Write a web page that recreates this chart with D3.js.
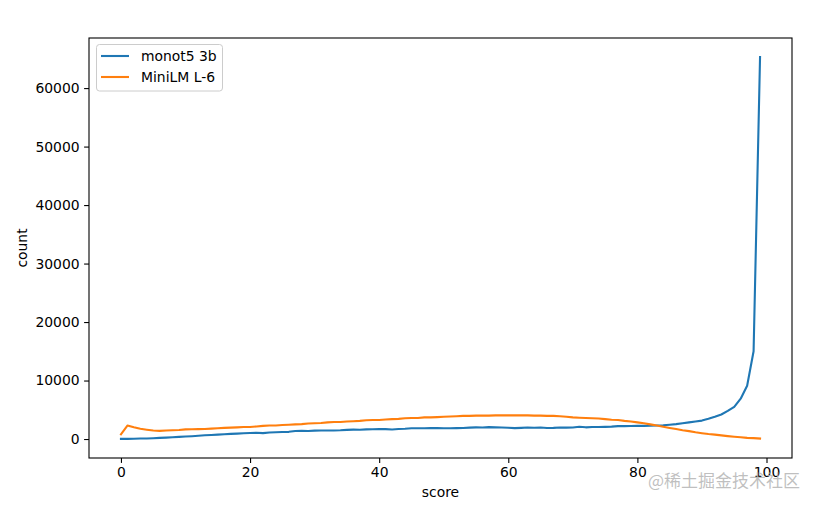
<!DOCTYPE html>
<html>
<head>
<meta charset="utf-8">
<script src="https://cdn.jsdelivr.net/npm/d3@7"></script>
<style>
  html, body { margin: 0; padding: 0; background: #fff; }
  svg { display: block; }
  text { font-family: "DejaVu Sans", sans-serif; }
</style>
</head>
<body>
<svg id="chart" width="819" height="507"></svg>
<script>
// ---- data ----
const seriesNames = ["monot5 3b", "MiniLM L-6"];
const seriesColors = ["#1f77b4", "#ff7f0e"];
const monot5 = [
  20, 30, 50, 80, 100, 140, 190, 240, 300, 360,
  420, 480, 560, 640, 700, 760, 820, 880, 930, 990,
  1030, 1060, 1010, 1120, 1160, 1200, 1230, 1380, 1400, 1360,
  1430, 1450, 1460, 1470, 1500, 1560, 1600, 1580, 1650, 1680,
  1700, 1690, 1640, 1720, 1760, 1840, 1850, 1830, 1890, 1870,
  1850, 1830, 1870, 1890, 1950, 2000, 1960, 2030, 1990, 1970,
  1920, 1860, 1900, 1960, 1920, 1960, 1880, 1900, 1980, 1950,
  1970, 2100, 2000, 2050, 2060, 2080, 2120, 2200, 2210, 2220,
  2240, 2250, 2270, 2300, 2350, 2450, 2550, 2700, 2850, 3000,
  3150, 3450, 3800, 4200, 4800, 5500, 6900, 9100, 15000, 65300
];
const miniLM = [
  800, 2300, 2000, 1750, 1600, 1450, 1400, 1450, 1500, 1550,
  1650, 1680, 1700, 1720, 1780, 1850, 1900, 1950, 2000, 2050,
  2050, 2150, 2250, 2300, 2300, 2400, 2450, 2500, 2550, 2650,
  2700, 2750, 2850, 2900, 2900, 3000, 3050, 3100, 3200, 3250,
  3250, 3350, 3400, 3450, 3550, 3600, 3600, 3700, 3700, 3750,
  3800, 3850, 3900, 3950, 3950, 4000, 4000, 4000, 4050, 4050,
  4050, 4050, 4050, 4050, 4000, 4000, 3950, 3950, 3900, 3800,
  3700, 3650, 3600, 3550, 3500, 3400, 3300, 3250, 3100, 3000,
  2850, 2700, 2500, 2300, 2100, 1900, 1700, 1500, 1350, 1150,
  1000, 850, 750, 620, 500, 400, 300, 200, 150, 80
];
const xTicks = [0, 20, 40, 60, 80, 100];
const yTicks = [0, 10000, 20000, 30000, 40000, 50000, 60000];
const xLabel = "score";
const yLabel = "count";
const watermark = "@稀土掘金技术社区";

// ---- layout ----
const svg = d3.select("#chart");
const L = 89, R = 792, T = 38, B = 458;
const fs = 13.9;

const allSeries = [monot5, miniLM];
const scores = d3.range(monot5.length);
const xmin = 0, xmax = scores.length - 1;
const xpad = (xmax - xmin) * 0.05;
const yAll = allSeries.flat();
const ymin = d3.min(yAll), ymax = d3.max(yAll);
const ypad = (ymax - ymin) * 0.05;

const x = d3.scaleLinear().domain([xmin - xpad, xmax + xpad]).range([L, R]);
const y = d3.scaleLinear().domain([ymin - ypad, ymax + ypad]).range([B, T]);

// lines
const line = d3.line().x((d, i) => x(i)).y(d => y(d));
const g = svg.append("g");
g.append("clipPath").attr("id", "clip").append("rect")
  .attr("x", L).attr("y", T).attr("width", R - L).attr("height", B - T);
allSeries.forEach((s, k) => {
  g.append("path").datum(s)
    .attr("d", line)
    .attr("fill", "none")
    .attr("stroke", seriesColors[k])
    .attr("stroke-width", 2.1)
    .attr("stroke-linejoin", "round")
    .attr("stroke-linecap", "square")
    .attr("clip-path", "url(#clip)");
});

// axes
const xAxis = d3.axisBottom(x).tickValues(xTicks).tickSize(4.9).tickPadding(4.5)
  .tickFormat(d3.format("d"));
const yAxis = d3.axisLeft(y).tickValues(yTicks).tickSize(4.9).tickPadding(4.5)
  .tickFormat(d3.format("d"));

const gx = svg.append("g").attr("transform", `translate(0,${B})`).call(xAxis);
const gy = svg.append("g").attr("transform", `translate(${L},0)`).call(yAxis);
[gx, gy].forEach(a => {
  a.select(".domain").remove();
  a.selectAll(".tick line").attr("stroke", "#000").attr("stroke-width", 1.1);
  a.selectAll(".tick text").attr("fill", "#000")
    .style("font-family", "DejaVu Sans").style("font-size", fs + "px");
});
gx.selectAll(".tick text").attr("dy", "0.71em");

// frame
svg.append("rect")
  .attr("x", L).attr("y", T).attr("width", R - L).attr("height", B - T)
  .attr("fill", "none").attr("stroke", "#000").attr("stroke-width", 1.1);

// axis labels
svg.append("text").attr("x", (L + R) / 2).attr("y", 497)
  .attr("text-anchor", "middle").style("font-size", fs + "px").attr("fill", "#000")
  .text(xLabel);
svg.append("text")
  .attr("transform", `translate(27,${(T + B) / 2}) rotate(-90)`)
  .attr("text-anchor", "middle").style("font-size", fs + "px").attr("fill", "#000")
  .text(yLabel);

// legend
const lg = svg.append("g");
lg.append("rect")
  .attr("x", 96.5).attr("y", 44.5).attr("width", 126).attr("height", 46.5)
  .attr("rx", 3).attr("fill", "#fff").attr("fill-opacity", 0.8)
  .attr("stroke", "#cccccc").attr("stroke-width", 1);
seriesNames.forEach((n, k) => {
  const yy = 56 + k * 21;
  lg.append("line").attr("x1", 101).attr("x2", 129).attr("y1", yy).attr("y2", yy)
    .attr("stroke", seriesColors[k]).attr("stroke-width", 2.1);
  lg.append("text").attr("x", 141).attr("y", yy + 5)
    .style("font-size", fs + "px").attr("fill", "#000").text(n);
});

// watermark
svg.append("text").attr("x", 648).attr("y", 487)
  .style("font-family", "'Noto Sans CJK SC', sans-serif").style("font-size", "17px")
  .attr("fill", "#b4b4b4").attr("fill-opacity", 0.85)
  .text(watermark);
</script>
</body>
</html>
